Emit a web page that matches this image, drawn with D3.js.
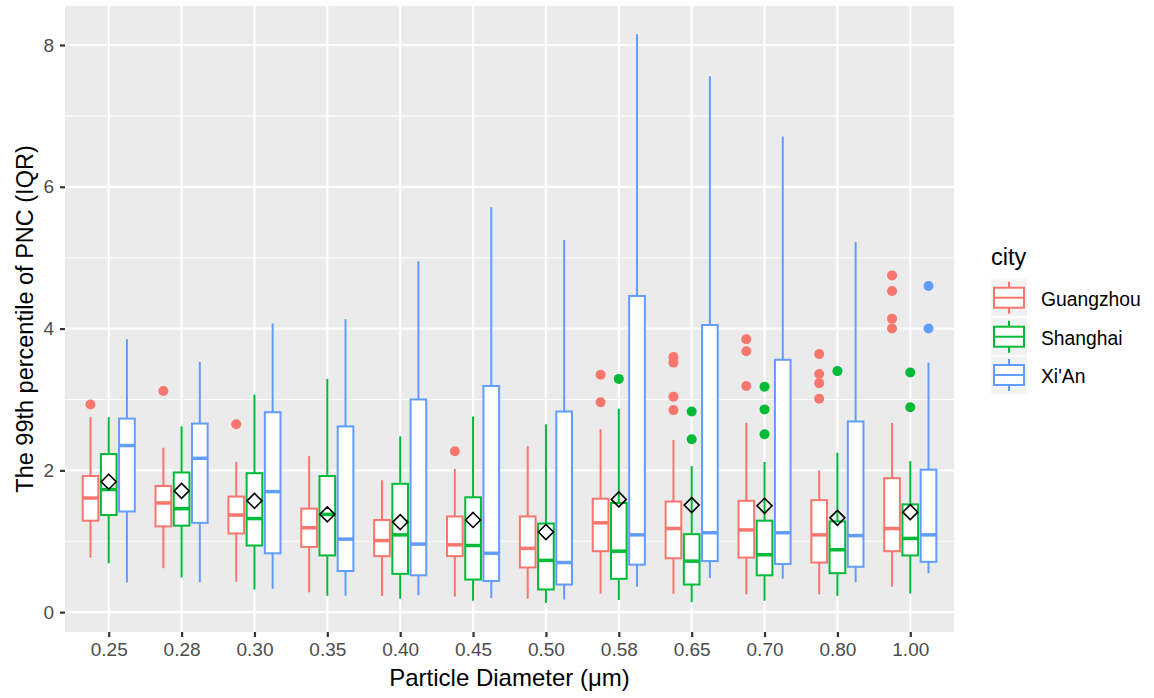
<!DOCTYPE html>
<html>
<head>
<meta charset="utf-8">
<title>PNC boxplot</title>
<script src="https://d3js.org/d3.v7.min.js"></script>
<style>
  body { margin: 0; background: #fff; }
  text { font-family: "Liberation Sans", Arial, sans-serif; }
  .tick line { stroke: #333; }
  .domain { display: none; }
</style>
</head>
<body>
<svg id="main" width="1154" height="698"></svg>
<script>
var sizes = ["0.25", "0.28", "0.30", "0.35", "0.40", "0.45", "0.50", "0.58", "0.65", "0.70", "0.80", "1.00"];
var cities = ["Guangzhou", "Shanghai", "Xi'An"];
var colors = ["#F8766D", "#00BA38", "#619CFF"];
var yTicks = [0, 2, 4, 6, 8];

// per city: lower whisker, q1, median, q3, upper whisker
var gzLow = [0.77, 0.62, 0.43, 0.28, 0.23, 0.22, 0.19, 0.26, 0.26, 0.25, 0.25, 0.36];
var gzQ1  = [1.29, 1.21, 1.11, 0.92, 0.79, 0.79, 0.63, 0.86, 0.76, 0.77, 0.70, 0.86];
var gzMed = [1.61, 1.54, 1.37, 1.19, 1.01, 0.95, 0.90, 1.26, 1.18, 1.16, 1.09, 1.18];
var gzQ3  = [1.92, 1.78, 1.63, 1.46, 1.30, 1.35, 1.35, 1.60, 1.56, 1.57, 1.58, 1.89];
var gzHigh = [2.75, 2.32, 2.12, 2.20, 1.86, 2.02, 2.34, 2.58, 2.43, 2.67, 2.00, 2.67];
var gzOut = [[2.93], [3.12], [2.65], [], [], [2.27], [], [3.35, 2.96],
             [3.60, 3.52, 3.04, 2.85], [3.85, 3.68, 3.19], [3.64, 3.36, 3.23, 3.01], [4.75, 4.53, 4.14, 4.00]];

var shLow = [0.69, 0.49, 0.32, 0.23, 0.19, 0.16, 0.13, 0.17, 0.14, 0.16, 0.23, 0.26];
var shQ1  = [1.37, 1.22, 0.94, 0.80, 0.54, 0.46, 0.32, 0.47, 0.39, 0.52, 0.55, 0.80];
var shMed = [1.73, 1.46, 1.32, 1.38, 1.09, 0.94, 0.73, 0.86, 0.72, 0.81, 0.88, 1.04];
var shQ3  = [2.23, 1.97, 1.96, 1.92, 1.81, 1.62, 1.25, 1.54, 1.10, 1.29, 1.28, 1.52];
var shHigh = [2.75, 2.62, 3.07, 3.29, 2.48, 2.76, 2.65, 2.87, 2.06, 2.12, 2.25, 2.13];
var shOut = [[], [], [], [], [], [], [], [3.29], [2.83, 2.44], [3.18, 2.86, 2.51], [3.40], [3.38, 2.89]];

var xaLow = [0.42, 0.42, 0.33, 0.23, 0.24, 0.20, 0.18, 0.36, 0.48, 0.47, 0.42, 0.55];
var xaQ1  = [1.42, 1.26, 0.83, 0.58, 0.52, 0.44, 0.39, 0.67, 0.72, 0.68, 0.64, 0.71];
var xaMed = [2.35, 2.17, 1.70, 1.03, 0.96, 0.83, 0.70, 1.09, 1.12, 1.12, 1.08, 1.09];
var xaQ3  = [2.73, 2.66, 2.82, 2.62, 3.00, 3.19, 2.83, 4.46, 4.05, 3.56, 2.69, 2.01];
var xaHigh = [3.85, 3.53, 4.07, 4.13, 4.95, 5.71, 5.25, 8.15, 7.56, 6.71, 5.22, 3.52];
var xaOut = [[], [], [], [], [], [], [], [], [], [], [], [4.60, 4.00]];

// overall mean per particle size
var means = [1.84, 1.71, 1.57, 1.38, 1.27, 1.30, 1.13, 1.59, 1.51, 1.50, 1.33, 1.41];

var lows = [gzLow, shLow, xaLow], q1s = [gzQ1, shQ1, xaQ1], meds = [gzMed, shMed, xaMed],
    q3s = [gzQ3, shQ3, xaQ3], highs = [gzHigh, shHigh, xaHigh], outs = [gzOut, shOut, xaOut];

var boxes = [];
cities.forEach(function(c, ci) {
  sizes.forEach(function(s, si) {
    boxes.push({ size: s, city: c, ci: ci, low: lows[ci][si], q1: q1s[ci][si], med: meds[ci][si],
                 q3: q3s[ci][si], high: highs[ci][si], out: outs[ci][si] });
  });
});

var svg = d3.select("#main");
var pLeft = 65, pRight = 954, pTop = 6, pBottom = 632;

// ggplot discrete expansion: 0.6 units on each side
var x = d3.scalePoint().domain(sizes).range([pLeft, pRight]).padding(0.6);
var step = x.step();
var y = d3.scaleLinear().domain([-0.28, 8.55]).range([pBottom, pTop]);

var offset = 0.25 * step, boxW = 0.215 * step;

// panel
svg.append("rect").attr("x", pLeft).attr("y", pTop).attr("width", pRight - pLeft).attr("height", pBottom - pTop)
  .attr("fill", "#EBEBEB");

var minor = [1, 3, 5, 7];
svg.selectAll(".minor").data(minor).enter().append("line")
  .attr("x1", pLeft).attr("x2", pRight).attr("y1", function(d) { return y(d); }).attr("y2", function(d) { return y(d); })
  .attr("stroke", "#fff").attr("stroke-width", 1.1);
svg.selectAll(".majorY").data(yTicks).enter().append("line")
  .attr("x1", pLeft).attr("x2", pRight).attr("y1", function(d) { return y(d); }).attr("y2", function(d) { return y(d); })
  .attr("stroke", "#fff").attr("stroke-width", 2.2);
svg.selectAll(".majorX").data(sizes).enter().append("line")
  .attr("x1", function(d) { return x(d); }).attr("x2", function(d) { return x(d); })
  .attr("y1", pTop).attr("y2", pBottom).attr("stroke", "#fff").attr("stroke-width", 2.2);

// axes
var xg = svg.append("g").attr("transform", "translate(0," + pBottom + ")")
  .call(d3.axisBottom(x).tickSize(5).tickPadding(6));
var yg = svg.append("g").attr("transform", "translate(" + pLeft + ",0)")
  .call(d3.axisLeft(y).tickValues(yTicks).tickSize(5).tickPadding(6));
[xg, yg].forEach(function(a) {
  a.attr("font-size", 19).attr("font-family", "Liberation Sans, Arial, sans-serif");
  a.selectAll(".tick line").attr("stroke-width", 2.2);
  a.selectAll(".tick text").attr("fill", "#4d4d4d");
});

// boxes
var g = svg.append("g");
var bx = function(d) { return x(d.size) + (d.ci - 1) * offset; };

g.selectAll(".whisker").data(boxes).enter().append("line")
  .attr("x1", bx).attr("x2", bx)
  .attr("y1", function(d) { return y(d.low); }).attr("y2", function(d) { return y(d.high); })
  .attr("stroke", function(d) { return colors[d.ci]; }).attr("stroke-width", 2);

g.selectAll(".box").data(boxes).enter().append("rect")
  .attr("x", function(d) { return bx(d) - boxW / 2; })
  .attr("width", boxW)
  .attr("y", function(d) { return y(d.q3); })
  .attr("height", function(d) { return y(d.q1) - y(d.q3); })
  .attr("fill", "#fff").attr("stroke", function(d) { return colors[d.ci]; }).attr("stroke-width", 2);

g.selectAll(".median").data(boxes).enter().append("line")
  .attr("x1", function(d) { return bx(d) - boxW / 2; }).attr("x2", function(d) { return bx(d) + boxW / 2; })
  .attr("y1", function(d) { return y(d.med); }).attr("y2", function(d) { return y(d.med); })
  .attr("stroke", function(d) { return colors[d.ci]; }).attr("stroke-width", 3.5);

var outPts = [];
boxes.forEach(function(b) { b.out.forEach(function(v) { outPts.push({ b: b, v: v }); }); });
g.selectAll(".out").data(outPts).enter().append("circle")
  .attr("cx", function(d) { return bx(d.b); }).attr("cy", function(d) { return y(d.v); })
  .attr("r", 5).attr("fill", function(d) { return colors[d.b.ci]; });

// means
var ds = 7.5;
g.selectAll(".mean").data(means).enter().append("path")
  .attr("d", function(d, i) {
    var px = x(sizes[i]), py = y(d);
    return "M" + px + "," + (py - ds) + "L" + (px + ds) + "," + py + "L" + px + "," + (py + ds) + "L" + (px - ds) + "," + py + "Z";
  })
  .attr("fill", "none").attr("stroke", "#000").attr("stroke-width", 1.6);

// titles
svg.append("text").attr("x", (pLeft + pRight) / 2).attr("y", 686).attr("text-anchor", "middle")
  .attr("font-size", 24).attr("fill", "#000").text("Particle Diameter (μm)");
svg.append("text").attr("transform", "translate(33," + ((pTop + pBottom) / 2) + ") rotate(-90)")
  .attr("text-anchor", "middle").attr("font-size", 23.5).attr("fill", "#000")
  .text("The 99th percentile of PNC (IQR)");

// legend
var lg = svg.append("g").attr("transform", "translate(991,0)");
lg.append("text").attr("x", 0).attr("y", 265).attr("font-size", 23.5).attr("fill", "#000").text("city");
var rowY = [297.7, 336.7, 375];
cities.forEach(function(c, i) {
  var r = lg.append("g").attr("transform", "translate(0," + rowY[i] + ")");
  r.append("rect").attr("x", 0).attr("y", -18.5).attr("width", 36).attr("height", 37).attr("fill", "#F2F2F2");
  r.append("line").attr("x1", 18).attr("x2", 18).attr("y1", -16).attr("y2", 16)
    .attr("stroke", colors[i]).attr("stroke-width", 2);
  r.append("rect").attr("x", 3).attr("y", -10).attr("width", 30).attr("height", 20)
    .attr("fill", "#fff").attr("stroke", colors[i]).attr("stroke-width", 2);
  r.append("line").attr("x1", 3).attr("x2", 33).attr("y1", 0).attr("y2", 0)
    .attr("stroke", colors[i]).attr("stroke-width", 2);
  r.append("text").attr("x", 50).attr("y", 8).attr("font-size", 19.3).attr("fill", "#000").text(c);
});
</script>
</body>
</html>
